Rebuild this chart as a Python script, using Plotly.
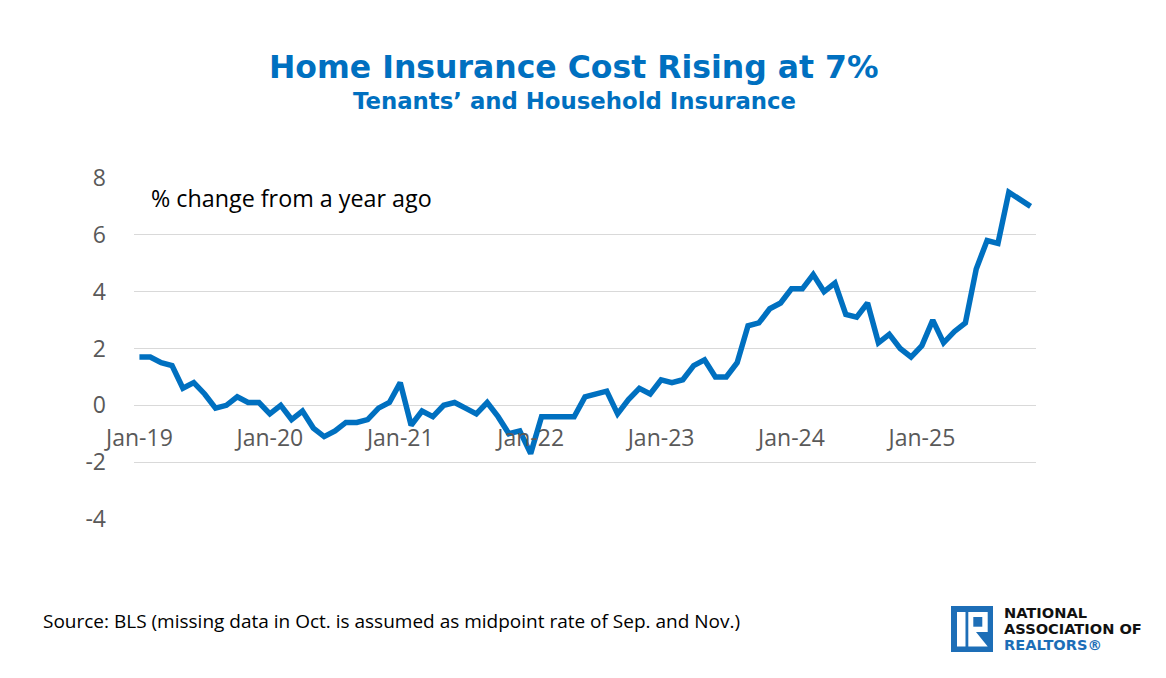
import plotly.graph_objects as go

# ---- data ----
months = [f"{m}-{y}" for y in range(19, 26) for m in
          ["Jan", "Feb", "Mar", "Apr", "May", "Jun", "Jul", "Aug", "Sep", "Oct", "Nov", "Dec"]][:83]
values = [
    1.7, 1.7, 1.5, 1.4, 0.6, 0.8, 0.4, -0.1, 0.0, 0.3, 0.1, 0.1,      # 2019
    -0.3, 0.0, -0.5, -0.2, -0.8, -1.1, -0.9, -0.6, -0.6, -0.5, -0.1, 0.1,  # 2020
    0.8, -0.7, -0.2, -0.4, 0.0, 0.1, -0.1, -0.3, 0.1, -0.4, -1.0, -0.9,   # 2021
    -1.7, -0.4, -0.4, -0.4, -0.4, 0.3, 0.4, 0.5, -0.3, 0.2, 0.6, 0.4,     # 2022
    0.9, 0.8, 0.9, 1.4, 1.6, 1.0, 1.0, 1.5, 2.8, 2.9, 3.4, 3.6,          # 2023
    4.1, 4.1, 4.6, 4.0, 4.3, 3.2, 3.1, 3.6, 2.2, 2.5, 2.0, 1.7,          # 2024
    2.1, 3.0, 2.2, 2.6, 2.9, 4.8, 5.8, 5.7, 7.5, 7.25, 7.0,             # 2025
]
tick_labels = ["Jan-19", "Jan-20", "Jan-21", "Jan-22", "Jan-23", "Jan-24", "Jan-25"]
y_ticks = [-4, -2, 0, 2, 4, 6, 8]
y_tick_text = ["-4", "-2", "0", "2", "4", "6", "8"]

title = "Home Insurance Cost Rising at 7%"
subtitle = "Tenants’ and Household Insurance"
note = "% change from a year ago"
source = "Source: BLS (missing data in Oct. is assumed as midpoint rate of Sep. and Nov.)"

BLUE = "#0070C0"
OFF = 8  # page body margin
W, H = 1166 - 2 * OFF, 678 - 2 * OFF
# plot area in reference pixels: x 134..1036.5, y 178..519
L, T = 134 - OFF, 178 - OFF
PW, PH = 902, 341
R, B = W - L - PW, H - T - PH

def px(x):
    return (x - OFF - L) / PW

def py(y):
    return (T + PH - (y - OFF)) / PH

x_idx = list(range(len(values)))
tick_pos = [months.index(t) for t in tick_labels]

fig = go.Figure()
fig.add_trace(go.Scatter(
    x=x_idx, y=values, mode="lines",
    line=dict(color=BLUE, width=5.5),
    hovertext=months, hoverinfo="text+y",
))

fig.update_layout(
    width=W, height=H,
    margin=dict(l=L, r=R, t=T, b=B),
    plot_bgcolor="white", paper_bgcolor="white",
    showlegend=False,
    font=dict(family="Open Sans", color="#595959"),
    xaxis=dict(
        range=[-0.5, len(values) - 0.5],
        tickvals=tick_pos, ticktext=tick_labels,
        showgrid=False, zeroline=False, showline=False,
        ticks="", anchor="free", position=(0 - (-4)) / 12,
        tickfont=dict(size=23, color="#595959", family="Open Sans"),
        ticklabelstandoff=17,
    ),
    yaxis=dict(
        range=[-4, 8], tickvals=y_ticks, ticktext=y_tick_text,
        showgrid=True, gridcolor="#D9D9D9", gridwidth=1,
        zeroline=False, showline=False, ticks="",
        tickfont=dict(size=23, color="#595959", family="Open Sans"),
        ticklabelstandoff=27,
    ),
)

TF = "DejaVu Sans"
annotations = [
    dict(text=f"<b>{title}</b>", x=px(574), y=py(67), xref="paper", yref="paper",
         showarrow=False, xanchor="center", yanchor="middle",
         font=dict(family=TF, size=31.5, color=BLUE)),
    dict(text=f"<b>{subtitle}</b>", x=px(574), y=py(101), xref="paper", yref="paper",
         showarrow=False, xanchor="center", yanchor="middle",
         font=dict(family=TF, size=22.8, color=BLUE)),
    dict(text=note, x=px(149), y=py(198), xref="paper", yref="paper",
         showarrow=False, xanchor="left", yanchor="middle",
         font=dict(family="Open Sans", size=23.3, color="#000000")),
    dict(text=source, x=px(41), y=py(621), xref="paper", yref="paper",
         showarrow=False, xanchor="left", yanchor="middle",
         font=dict(family="Open Sans", size=19, color="#000000")),
    dict(text="<b>NATIONAL</b>", x=px(1002), y=py(612), xref="paper", yref="paper",
         showarrow=False, xanchor="left", yanchor="middle",
         font=dict(family=TF, size=14.6, color="#111111")),
    dict(text="<b>ASSOCIATION OF</b>", x=px(1002), y=py(628), xref="paper", yref="paper",
         showarrow=False, xanchor="left", yanchor="middle",
         font=dict(family=TF, size=14.6, color="#111111")),
    dict(text="<b>REALTORS®</b>", x=px(1002), y=py(644), xref="paper", yref="paper",
         showarrow=False, xanchor="left", yanchor="middle",
         font=dict(family=TF, size=14.6, color="#1D6EB7")),
]
fig.update_layout(annotations=annotations)

LOGO = "#1D6EB7"
def rect(x0, y0, x1, y1, color):
    return dict(type="rect", xref="paper", yref="paper",
                x0=px(x0), x1=px(x1), y0=py(y0), y1=py(y1),
                fillcolor=color, line=dict(width=0), layer="above")

def poly(points, color):
    d = "M " + " L ".join(f"{px(a)},{py(b)}" for a, b in points) + " Z"
    return dict(type="path", xref="paper", yref="paper", path=d,
                fillcolor=color, line=dict(width=0), layer="above")

shapes = [
    rect(951, 606, 993, 652, LOGO),
    rect(957, 612, 965.5, 646.5, "white"),
    rect(968.3, 612, 987.7, 632, "white"),
    rect(973.3, 617, 982.3, 626.7, LOGO),
    poly([(968.3, 632), (976, 632), (987.7, 646.5), (968.3, 646.5)], "white"),
]
fig.update_layout(shapes=shapes)

fig.write_html("out.html")
